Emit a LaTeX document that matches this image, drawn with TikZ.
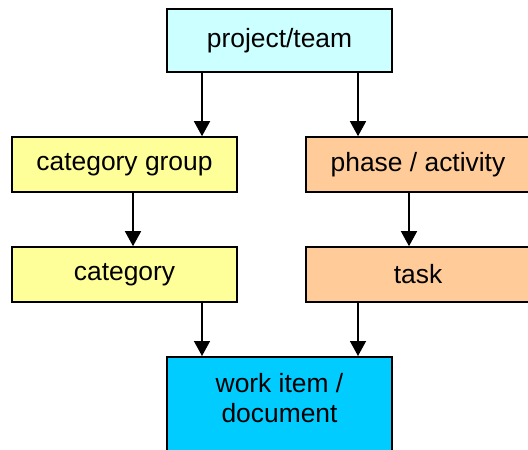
\documentclass[tikz,border=0pt]{standalone}
\usepackage{fontspec}
\setmainfont{Liberation Sans}
\usetikzlibrary{arrows.meta}
\definecolor{ptcyan}{HTML}{CCFFFF}
\definecolor{cgyellow}{HTML}{FFFF99}
\definecolor{phpeach}{HTML}{FFCC99}
\definecolor{wiblue}{HTML}{00CCFF}
\begin{document}
\begin{tikzpicture}[x=1bp,y=-1bp,
  box/.style={draw=black, line width=1.6bp, inner sep=0pt, font=\fontsize{26.5}{30.5}\selectfont, align=center},
  arr/.style={line width=1.5bp, -{Triangle[width=16bp,length=15bp]}}]
\useasboundingbox (0,0) rectangle (528,450);
\clip (0,0) rectangle (528,450);
\node[box, fill=ptcyan, minimum width=225bp, minimum height=63bp] (pt) at (279.5,40.5) {project/team};
\node[box, fill=cgyellow, minimum width=225bp, minimum height=55bp] (cg) at (124.5,164.5) {category group};
\node[box, fill=cgyellow, minimum width=225bp, minimum height=55bp] (cat) at (124.5,274.5) {category};
\node[box, fill=phpeach, minimum width=224bp, minimum height=55bp] (ph) at (418,164.5) {phase / activity};
\node[box, fill=phpeach, minimum width=224bp, minimum height=55bp] (task) at (418,274.5) {task};
\node[box, fill=wiblue, minimum width=225bp, minimum height=120bp, anchor=north] (wi) at (279.5,356) {};
\node[font=\fontsize{26.5}{30.5}\selectfont, align=center, inner sep=0pt] (wit) at (279.5,398) {work item /\\document};
\coordinate (xa) at (202,0);
\coordinate (xb) at (358,0);
\coordinate (xc) at (133,0);
\coordinate (xd) at (409,0);
\draw[arr] (pt.south -| xa) -- (cg.north -| xa);
\draw[arr] (pt.south -| xb) -- (ph.north -| xb);
\draw[arr] (cg.south -| xc) -- (cat.north -| xc);
\draw[arr] (ph.south -| xd) -- (task.north -| xd);
\draw[arr] (cat.south -| xa) -- (wi.north -| xa);
\draw[arr] (task.south -| xb) -- (wi.north -| xb);
\end{tikzpicture}
\end{document}
